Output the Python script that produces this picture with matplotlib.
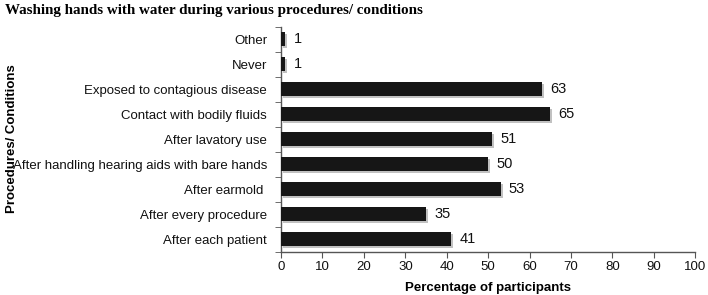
import matplotlib
matplotlib.use("Agg")
import matplotlib.pyplot as plt
import matplotlib.patheffects as pe
import numpy as np

categories = ["After each patient", "After every procedure", "After earmold ",
              "After handling hearing aids with bare hands", "After lavatory use",
              "Contact with bodily fluids", "Exposed to contagious disease",
              "Never", "Other"]
values = [41, 35, 53, 50, 51, 65, 63, 1, 1]
xticks = list(range(0, 101, 10))

plt.rcParams['font.family'] = ['Liberation Sans', 'DejaVu Sans']

fig = plt.figure(figsize=(7.08, 2.95), dpi=100)
ax = fig.add_axes([0.397, 0.147, 0.585, 0.763])

y = np.arange(len(categories))
bars = ax.barh(y, values, height=0.55, color='#161616', zorder=3)
for b in bars:
    b.set_path_effects([pe.SimplePatchShadow(offset=(1.5, -1.5), shadow_rgbFace='#777777', alpha=0.45), pe.Normal()])
for yi, v in zip(y, values):
    ax.text(v + 2.0, yi, str(v), va='center', ha='left', fontsize=10.5, color='#111111')

ax.set_xlim(0, 100)
ax.set_ylim(-0.5, len(categories) - 0.5)
ax.set_xticks(xticks)
ax.set_xticklabels([str(t) for t in xticks], fontsize=9.5, color='#111111')
ax.set_yticks(y)
ax.set_yticklabels(categories, fontsize=9.5, color='#111111')
ax.set_yticks(np.arange(-0.5, len(categories), 1), minor=True)
ax.tick_params(axis='y', which='major', length=0, pad=10)
ax.tick_params(axis='y', which='minor', length=4, direction='out', color='#555555')
ax.tick_params(axis='x', which='major', length=4, direction='out', color='#555555', pad=3)

for s in ['top', 'right']:
    ax.spines[s].set_visible(False)
for s in ['left', 'bottom']:
    ax.spines[s].set_color('#555555')
    ax.spines[s].set_linewidth(1.0)

ax.set_xlabel("Percentage of participants", fontsize=9.5, fontweight='bold', labelpad=6)
fig.text(0.017, 0.53, "Procedures/ Conditions", rotation=90, ha='center', va='center',
         fontsize=9.5, fontweight='bold')
fig.text(0.007, 0.965, "Washing hands with water during various procedures/ conditions",
         ha='left', va='center', fontsize=10.8, fontweight='bold', family='Liberation Serif')

fig.savefig("out.png", dpi=100)
